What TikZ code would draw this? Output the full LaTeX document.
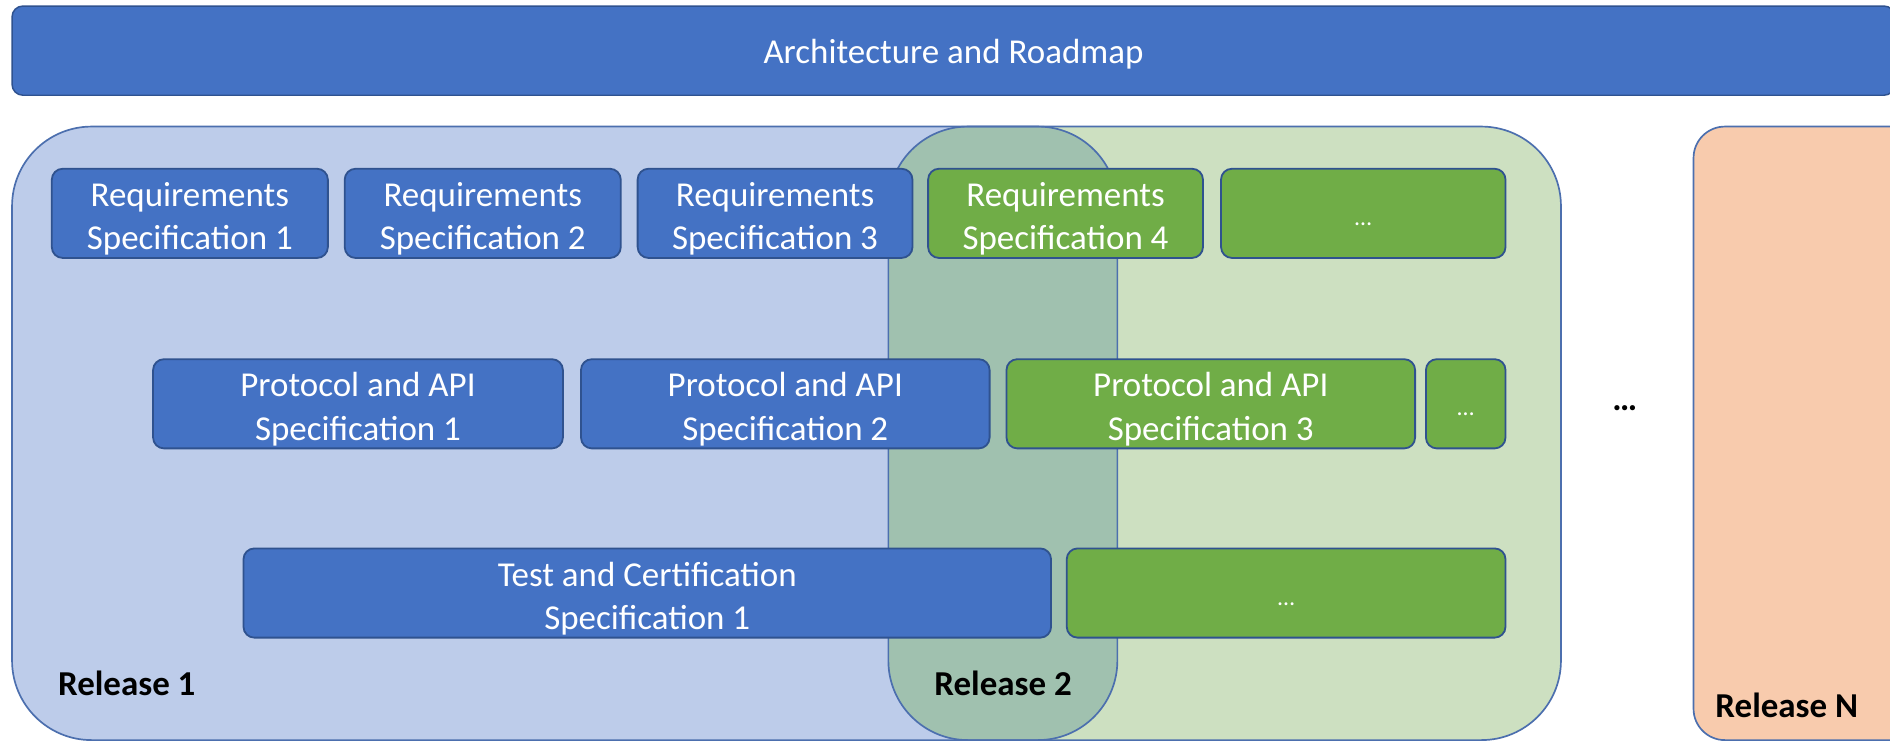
\documentclass[tikz,border=0pt]{standalone}
\usepackage{fontspec}
\setmainfont{Carlito}
\definecolor{barblue}{HTML}{4472C4}
\definecolor{edgeblue}{HTML}{2F528F}
\definecolor{relblue}{HTML}{BDCCEA}
\definecolor{relgreen}{HTML}{CDE0C1}
\definecolor{overlapc}{HTML}{A0C1AF}
\definecolor{relpeach}{HTML}{F8CBAD}
\definecolor{reledge}{HTML}{4C6FAE}
\definecolor{specgreen}{HTML}{70AD47}
\begin{document}
\begin{tikzpicture}[x=1pt,y=-1pt,
  txt/.style={font=\fontsize{29}{36}\selectfont},
  bluespec/.style={draw=edgeblue, line width=1.5pt, fill=barblue, rounded corners=9pt,
    minimum height=74pt, inner sep=0pt, text=white, align=center, txt,
    execute at begin node={\rule{0pt}{65pt}}},
  greenspec/.style={bluespec, fill=specgreen},
  dotsbox/.style={draw=edgeblue, line width=1.5pt, fill=specgreen, rounded corners=9pt,
    minimum height=74pt, inner sep=0pt, text=white,
    font=\fontsize{20}{24}\selectfont,
    execute at begin node={\rule{0pt}{20pt}}},
  relbox/.style={draw=reledge, line width=1.4pt, rounded corners=66pt},
  rellabel/.style={anchor=west, inner sep=0pt, font=\fontsize{29}{36}\selectfont\bfseries}
]
\useasboundingbox (0,0) rectangle (1568,616);

% top bar
\node[draw=edgeblue, line width=1.2pt, fill=barblue, rounded corners=9pt,
  minimum width=1562pt, minimum height=74pt, inner sep=0pt, text=white, txt,
  execute at begin node={\rule{0pt}{26pt}}]
  (arch) at (791,42) {Architecture and Roadmap};

% release containers
\fill[relblue, rounded corners=66pt] (10,105) rectangle (927,614);
\fill[relgreen, rounded corners=66pt] (737,105) rectangle (1295,614);
\begin{scope}
  \clip[rounded corners=66pt] (10,105) rectangle (927,614);
  \fill[overlapc, rounded corners=66pt] (737,105) rectangle (1295,614);
\end{scope}
\draw[relbox] (10,105) rectangle (927,614);
\draw[relbox] (737,105) rectangle (1295,614);
\draw[draw=reledge, line width=1.4pt, fill=relpeach, rounded corners=26pt]
  (1405,105) rectangle (1620,614);

% row 1
\node[bluespec, minimum width=229pt] (rs1) at (157.5,177) {Requirements\\Specification 1};
\node[bluespec, minimum width=229pt] (rs2) at (400.5,177) {Requirements\\Specification 2};
\node[bluespec, minimum width=228pt] (rs3) at (643,177) {Requirements\\Specification 3};
\node[greenspec, minimum width=228pt] (rs4) at (884,177) {Requirements\\Specification 4};
\node[dotsbox, minimum width=236pt] (rs5) at (1131,177) {…};

% row 2
\node[bluespec, minimum width=340pt] (pa1) at (297,335) {Protocol and API\\Specification 1};
\node[bluespec, minimum width=339pt] (pa2) at (651.5,335) {Protocol and API\\Specification 2};
\node[greenspec, minimum width=339pt] (pa3) at (1004.5,335) {Protocol and API\\Specification 3};
\node[dotsbox, minimum width=66pt] (pa4) at (1216,335) {…};

% row 3
\node[bluespec, minimum width=670pt] (tc1) at (537,492) {Test and Certification\\Specification 1};
\node[dotsbox, minimum width=364pt] (tc2) at (1067,492) {…};

% labels
\node[rellabel] (l1) at (48,567) {Release 1};
\node[rellabel] (l2) at (775,567) {Release 2};
\node[rellabel] (ln) at (1423,585) {Release N};
\node[font=\fontsize{29}{36}\selectfont\bfseries] (gap) at (1348,339) {…};
\end{tikzpicture}
\end{document}
